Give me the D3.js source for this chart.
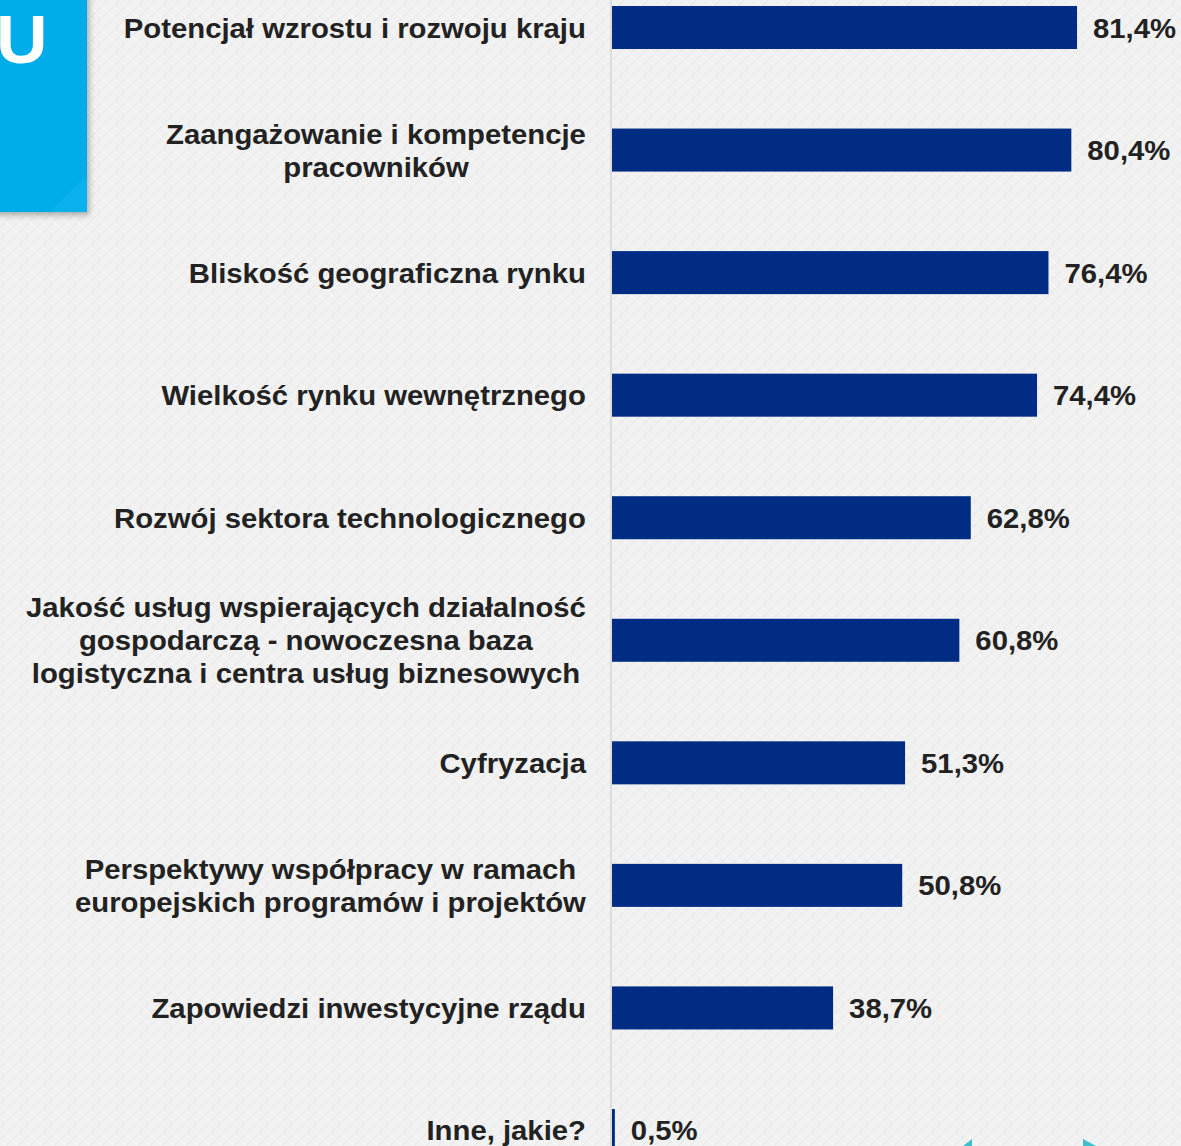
<!DOCTYPE html>
<html><head><meta charset="utf-8">
<script src="https://cdn.jsdelivr.net/npm/d3@7"></script>
<style>
html,body{margin:0;padding:0;background:#f0f0f0;overflow:hidden}
svg{display:block}
text{font-family:"Liberation Sans",Arial,sans-serif;font-weight:bold}
</style></head>
<body>
<svg id="c" width="1181" height="1146"></svg>
<script>
const categories = [
  "Potencjał wzrostu i rozwoju kraju",
  "Zaangażowanie i kompetencje\npracowników",
  "Bliskość geograficzna rynku",
  "Wielkość rynku wewnętrznego",
  "Rozwój sektora technologicznego",
  "Jakość usług wspierających działalność\ngospodarczą - nowoczesna baza\nlogistyczna i centra usług biznesowych",
  "Cyfryzacja",
  "Perspektywy współpracy w ramach\neuropejskich programów i projektów",
  "Zapowiedzi inwestycyjne rządu",
  "Inne, jakie?"
];
const values = [81.4, 80.4, 76.4, 74.4, 62.8, 60.8, 51.3, 50.8, 38.7, 0.5];
const valueLabels = ["81,4%", "80,4%", "76,4%", "74,4%", "62,8%", "60,8%", "51,3%", "50,8%", "38,7%", "0,5%"];
const boxLetter = "U";

const W = 1181, H = 1146;
const SX = 1.085;   // horizontal stretch of the reference typography
const svg = d3.select("#c");
const defs = svg.append("defs");
const pat = defs.append("pattern").attr("id","tex").attr("width",12).attr("height",12)
  .attr("patternUnits","userSpaceOnUse");
pat.append("rect").attr("width",12).attr("height",12).attr("fill","#f1f1f1");
pat.append("path").attr("d","M0,12 L12,0 M-3,3 L3,-3 M9,15 L15,9").attr("stroke","#e9e9e9").attr("stroke-width",1.2);
pat.append("path").attr("d","M0,0 L12,12 M-3,9 L3,15 M9,-3 L15,3").attr("stroke","#f6f6f6").attr("stroke-width",1.2);
svg.append("rect").attr("width",W).attr("height",H).attr("fill","url(#tex)");

// blue box
const sh = defs.append("filter").attr("id","sh").attr("x","-20%").attr("y","-20%").attr("width","150%").attr("height","150%");
sh.append("feDropShadow").attr("dx",2).attr("dy",3).attr("stdDeviation",3).attr("flood-color","#000").attr("flood-opacity",0.3);
svg.append("rect").attr("x",-10).attr("y",-10).attr("width",97).attr("height",222)
  .attr("fill","#04ade9").attr("filter","url(#sh)");
svg.append("path").attr("d","M50,212 L87,175 L87,212 Z").attr("fill","#12b4ee").attr("opacity",0.6);
svg.append("g").attr("transform","translate(-4,63) scale(1.05,1)")
  .append("text").attr("fill","#fff").attr("font-size",68).text(boxLetter);

const x = d3.scaleLinear().domain([0,100]).range([612, 1183.3]);
const y = d3.scaleBand().domain(categories).range([6, 1152]).paddingInner(0.649).paddingOuter(0);

// axis line
svg.append("line").attr("x1",611).attr("x2",611).attr("y1",0).attr("y2",H)
  .attr("stroke","#d6d6d6").attr("stroke-width",1.5);

svg.selectAll("rect.bar").data(categories).join("rect").attr("class","bar")
  .attr("x", x(0)).attr("y", d=>y(d)).attr("height", y.bandwidth())
  .attr("width", (d,i)=>Math.max(2.5, x(values[i])-x(0)))
  .attr("fill","#002c83");

const fs = 27;
svg.selectAll("g.val").data(categories).join("g").attr("class","val")
  .attr("transform",(d,i)=>`translate(${x(values[i])+(i===9?16:16)},${y(d)+y.bandwidth()/2+10}) scale(${SX},1)`)
  .append("text").attr("font-size",fs).attr("fill","#222").text((d,i)=>valueLabels[i]);

// category labels
const lineH = 33;
categories.forEach((c,i)=>{
  const lines = c.split("\n");
  const cy = y(c)+y.bandwidth()/2;
  const top = cy - (lines.length-1)*lineH/2 + 10;
  const g = svg.append("g");
  const t = g.append("text").attr("font-size",fs).attr("fill","#222");
  const tspans = lines.map((l,k)=>t.append("tspan").attr("y", k*lineH).attr("x",0).attr("text-anchor","middle").text(l));
  const widths = tspans.map(s=>s.node().getComputedTextLength());
  const maxW = d3.max(widths)*SX;
  const cx = 586 - maxW/2;
  g.attr("transform",`translate(${cx},${top}) scale(${SX},1)`);
});

// nav arrows bottom right
svg.append("path").attr("d","M963,1146 L972,1139 L972,1146 Z").attr("fill","#3dbfcc");
svg.append("path").attr("d","M1083,1139 L1096,1146 L1083,1146 Z").attr("fill","#3dbfcc");
</script>
</body></html>
